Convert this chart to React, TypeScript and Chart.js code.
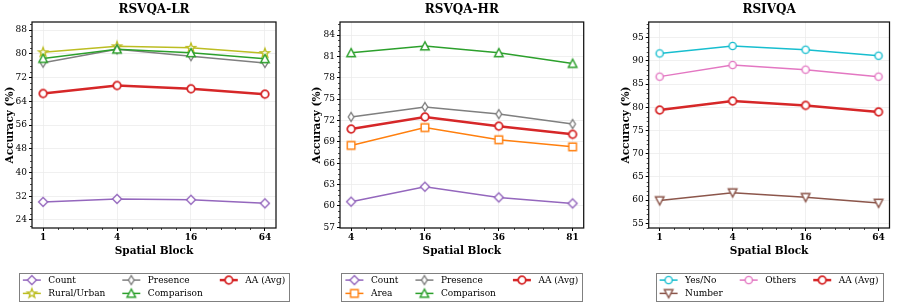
import React, { useEffect, useRef } from "react";
import { Chart, registerables } from "chart.js";

Chart.register(...registerables);

const FONT = "'DejaVu Serif', serif";

// ---------- Panel 1: RSVQA-LR ----------
const lrBlocks = ["1", "4", "16", "64"];
const lrCount = [30.1, 31.1, 30.8, 29.6];
const lrRuralUrban = [80.5, 82.5, 82.0, 80.2];
const lrPresence = [77.0, 81.5, 79.2, 76.9];
const lrComparison = [78.4, 81.5, 80.3, 78.3];
const lrAA = [66.6, 69.3, 68.2, 66.4];
const lrYTicks = [24, 32, 40, 48, 56, 64, 72, 80, 88];

// ---------- Panel 2: RSVQA-HR ----------
const hrBlocks = ["4", "16", "36", "81"];
const hrCount = [60.6, 62.7, 61.2, 60.35];
const hrArea = [68.5, 71.0, 69.3, 68.3];
const hrPresence = [72.5, 73.9, 72.9, 71.5];
const hrComparison = [81.5, 82.45, 81.5, 80.0];
const hrAA = [70.8, 72.5, 71.2, 70.05];
const hrYTicks = [57, 60, 63, 66, 69, 72, 75, 78, 81, 84];

// ---------- Panel 3: RSIVQA ----------
const ivBlocks = ["1", "4", "16", "64"];
const ivYesNo = [91.6, 93.2, 92.4, 91.1];
const ivNumber = [59.9, 61.6, 60.6, 59.35];
const ivOthers = [86.6, 89.1, 88.1, 86.6];
const ivAA = [79.4, 81.35, 80.4, 79.0];
const ivYTicks = [55, 60, 65, 70, 75, 80, 85, 90, 95];

type Series = { label: string; values: number[]; color: string; marker: string; width: number };

function makeMarker(kind: string, color: string, lw: number): HTMLCanvasElement {
  const S = 14;
  const c = document.createElement("canvas");
  c.width = S;
  c.height = S;
  const ctx = c.getContext("2d")!;
  const cx = S / 2,
    cy = S / 2;
  ctx.beginPath();
  switch (kind) {
    case "circle":
      ctx.arc(cx, cy, 3.6, 0, Math.PI * 2);
      break;
    case "circleL":
      ctx.arc(cx, cy, 3.8, 0, Math.PI * 2);
      break;
    case "diamond":
      ctx.moveTo(cx, cy - 4.5);
      ctx.lineTo(cx + 4.5, cy);
      ctx.lineTo(cx, cy + 4.5);
      ctx.lineTo(cx - 4.5, cy);
      ctx.closePath();
      break;
    case "thin":
      ctx.moveTo(cx, cy - 4.5);
      ctx.lineTo(cx + 2.8, cy);
      ctx.lineTo(cx, cy + 4.5);
      ctx.lineTo(cx - 2.8, cy);
      ctx.closePath();
      break;
    case "star":
      for (let i = 0; i < 10; i++) {
        const r = i % 2 ? 2.0 : 4.8;
        const a = -Math.PI / 2 + (i * Math.PI) / 5;
        const px = cx + r * Math.cos(a),
          py = cy + r * Math.sin(a);
        if (i === 0) ctx.moveTo(px, py);
        else ctx.lineTo(px, py);
      }
      ctx.closePath();
      break;
    case "tri":
      ctx.moveTo(cx, cy - 4.3);
      ctx.lineTo(cx + 4.3, cy + 3.8);
      ctx.lineTo(cx - 4.3, cy + 3.8);
      ctx.closePath();
      break;
    case "tridown":
      ctx.moveTo(cx, cy + 4.3);
      ctx.lineTo(cx + 4.3, cy - 3.8);
      ctx.lineTo(cx - 4.3, cy - 3.8);
      ctx.closePath();
      break;
    case "square":
      ctx.rect(cx - 3.8, cy - 3.8, 7.6, 7.6);
      break;
  }
  ctx.fillStyle = "#fff";
  ctx.fill();
  ctx.lineWidth = lw;
  ctx.strokeStyle = color;
  ctx.lineJoin = "miter";
  ctx.stroke();
  return c;
}

type PanelProps = {
  title: string;
  blocks: string[];
  series: Series[];
  yTicks: number[];
  yMin: number;
  yMax: number;
  yDiv: number;
  left: number;
  right: number;
  yTitlePad: number;
};

const W = 299;
const H = 306;

function Panel(p: PanelProps) {
  const ref = useRef<HTMLCanvasElement | null>(null);
  useEffect(() => {
    const canvas = ref.current!;
    const markers = p.series.map((s) => makeMarker(s.marker, s.color, s.width > 2 ? 1.8 : 1.4));

    const decor = {
      id: "decor",
      afterDraw(chart: any) {
        const { ctx, chartArea: ca, scales } = chart;
        const x = scales.x,
          y = scales.y;
        ctx.save();
        // minor ticks
        ctx.strokeStyle = "#000";
        ctx.lineWidth = 0.7;
        const step = p.yTicks[1] - p.yTicks[0];
        const ms = step / p.yDiv;
        for (let v = p.yTicks[0] - step; v <= p.yTicks[p.yTicks.length - 1] + step + 1e-6; v += ms) {
          if (v < y.min || v > y.max) continue;
          const isMajor = p.yTicks.some((t) => Math.abs(t - v) < 1e-6);
          if (isMajor) continue;
          const py = Math.round(y.getPixelForValue(v)) + 0.5;
          ctx.beginPath();
          ctx.moveTo(ca.left - 2, py);
          ctx.lineTo(ca.left, py);
          ctx.stroke();
        }
        for (let v = -1; v <= p.blocks.length + 1e-6; v += 0.2) {
          const vv = Math.round(v * 10) / 10;
          if (vv < x.min || vv > x.max) continue;
          if (Math.abs(vv - Math.round(vv)) < 1e-6) continue;
          const px = Math.round(x.getPixelForValue(vv)) + 0.5;
          ctx.beginPath();
          ctx.moveTo(px, ca.bottom);
          ctx.lineTo(px, ca.bottom + 2);
          ctx.stroke();
        }
        // frame
        ctx.lineWidth = 1.25;
        ctx.strokeStyle = "#111";
        ctx.strokeRect(ca.left, ca.top, ca.right - ca.left, ca.bottom - ca.top);
        // title
        ctx.fillStyle = "#000";
        ctx.font = `bold 12px ${FONT}`;
        ctx.textAlign = "center";
        ctx.textBaseline = "middle";
        ctx.fillText(p.title, (ca.left + ca.right) / 2, 9.5);
        // legend
        const n = p.series.length;
        const ncol = 3;
        const nrows = Math.floor(n / ncol);
        const large = n % ncol;
        const rowsPerCol: number[] = [];
        for (let i = 0; i < ncol; i++) rowsPerCol.push(i < large ? nrows + 1 : nrows);
        const cols: number[][] = [];
        let idx = 0;
        for (let c = 0; c < ncol; c++) {
          const col: number[] = [];
          for (let r = 0; r < rowsPerCol[c]; r++) col.push(idx++);
          cols.push(col);
        }
        ctx.font = `9px ${FONT}`;
        const handleLen = 18,
          handlePad = 7.5,
          colSpacing = 17,
          borderPad = 4;
        const colW = cols.map(
          (col) => handleLen + handlePad + Math.max(...col.map((i) => ctx.measureText(p.series[i].label).width))
        );
        const totalW = borderPad * 2 + colW.reduce((a, b) => a + b, 0) + colSpacing * (ncol - 1);
        const bx = (ca.left + ca.right) / 2 - totalW / 2;
        const by = 272.7;
        const bh = 28.3;
        ctx.fillStyle = "#fff";
        ctx.fillRect(bx, by, totalW, bh);
        ctx.strokeStyle = "#808080";
        ctx.lineWidth = 1;
        ctx.strokeRect(Math.round(bx) + 0.5, Math.round(by) + 0.5, Math.round(totalW), Math.round(bh));
        let cxp = bx + borderPad;
        cols.forEach((col, c) => {
          col.forEach((i, r) => {
            const s = p.series[i];
            const ry = by + 7.4 + r * 13.3;
            ctx.strokeStyle = s.color;
            ctx.lineWidth = s.width;
            ctx.beginPath();
            ctx.moveTo(cxp, ry);
            ctx.lineTo(cxp + handleLen, ry);
            ctx.stroke();
            const m = markers[i];
            ctx.drawImage(m, cxp + handleLen / 2 - m.width / 2, ry - m.height / 2);
            ctx.fillStyle = "#000";
            ctx.textAlign = "left";
            ctx.textBaseline = "middle";
            ctx.fillText(s.label, cxp + handleLen + handlePad, ry + 0.5);
          });
          cxp += colW[c] + colSpacing;
        });
        ctx.restore();
      },
    };

    const n = p.series.length;
    const chart = new Chart(canvas, {
      type: "line",
      data: {
        datasets: p.series.map((s, i) => ({
          label: s.label,
          data: s.values.map((v, k) => ({ x: k, y: v })),
          borderColor: s.color,
          backgroundColor: "#fff",
          borderWidth: s.width,
          pointStyle: markers[i] as any,
          pointRadius: 5,
          pointHoverRadius: 5,
          fill: false,
          tension: 0,
          order: n - i,
        })),
      },
      options: {
        responsive: false,
        animation: false,
        devicePixelRatio: 1,
        events: [],
        layout: { padding: { left: 0, top: 22, right: W - p.right, bottom: 44 } },
        plugins: {
          legend: { display: false },
          title: { display: false },
          tooltip: { enabled: false },
        },
        scales: {
          x: {
            type: "linear",
            min: -0.15,
            max: p.blocks.length - 1 + 0.15,
            afterBuildTicks: (s: any) => {
              s.ticks = p.blocks.map((_, k) => ({ value: k }));
            },
            afterFit: (s: any) => {
              s.height = 34;
            },
            ticks: {
              callback: (v: any) => p.blocks[Math.round(Number(v))] ?? "",
              font: { family: FONT, size: 9, weight: "bold" },
              color: "#000",
              padding: 1,
              maxRotation: 0,
              autoSkip: false,
            },
            grid: {
              color: "#ececec",
              lineWidth: 0.8,
              drawTicks: true,
              tickLength: 3,
              tickColor: "#000",
              tickWidth: 1,
            },
            border: { display: false },
            title: {
              display: true,
              text: "Spatial Block",
              font: { family: FONT, size: 10.5, weight: "bold" },
              color: "#000",
              padding: { top: 0, bottom: 4.2 },
            },
          },
          y: {
            type: "linear",
            min: p.yMin,
            max: p.yMax,
            afterBuildTicks: (s: any) => {
              s.ticks = p.yTicks.map((v) => ({ value: v }));
            },
            afterFit: (s: any) => {
              s.width = p.left;
            },
            ticks: {
              font: { family: FONT, size: 9 },
              color: "#000",
              padding: 2,
              autoSkip: false,
            },
            grid: {
              color: "#ececec",
              lineWidth: 0.8,
              drawTicks: true,
              tickLength: 3,
              tickColor: "#000",
              tickWidth: 1,
            },
            border: { display: false },
            title: {
              display: true,
              text: "Accuracy (%)",
              font: { family: FONT, size: 10.5, weight: "bold" },
              color: "#000",
              padding: { top: p.yTitlePad, bottom: 0 },
            },
          },
        },
      } as any,
      plugins: [decor],
    });
    return () => chart.destroy();
  }, []);
  return <canvas ref={ref} width={W} height={H} style={{ display: "block", width: W, height: H }} />;
}

const PURPLE = "#9467bd";
const GRAY = "#7f7f7f";
const RED = "#d62728";
const OLIVE = "#bcbd22";
const GREEN = "#2ca02c";
const ORANGE = "#ff7f0e";
const CYAN = "#17becf";
const PINK = "#e377c2";
const BROWN = "#8c564b";

export default function App() {
  const lrSeries: Series[] = [
    { label: "Count", values: lrCount, color: PURPLE, marker: "diamond", width: 1.5 },
    { label: "Rural/Urban", values: lrRuralUrban, color: OLIVE, marker: "star", width: 1.5 },
    { label: "Presence", values: lrPresence, color: GRAY, marker: "thin", width: 1.5 },
    { label: "Comparison", values: lrComparison, color: GREEN, marker: "tri", width: 1.5 },
    { label: "AA (Avg)", values: lrAA, color: RED, marker: "circleL", width: 2.5 },
  ];
  const hrSeries: Series[] = [
    { label: "Count", values: hrCount, color: PURPLE, marker: "diamond", width: 1.5 },
    { label: "Area", values: hrArea, color: ORANGE, marker: "square", width: 1.5 },
    { label: "Presence", values: hrPresence, color: GRAY, marker: "thin", width: 1.5 },
    { label: "Comparison", values: hrComparison, color: GREEN, marker: "tri", width: 1.5 },
    { label: "AA (Avg)", values: hrAA, color: RED, marker: "circleL", width: 2.5 },
  ];
  const ivSeries: Series[] = [
    { label: "Yes/No", values: ivYesNo, color: CYAN, marker: "circle", width: 1.5 },
    { label: "Number", values: ivNumber, color: BROWN, marker: "tridown", width: 1.5 },
    { label: "Others", values: ivOthers, color: PINK, marker: "circle", width: 1.5 },
    { label: "AA (Avg)", values: ivAA, color: RED, marker: "circleL", width: 2.5 },
  ];
  return (
    <div style={{ position: "fixed", left: 0, top: 0, width: 897, height: 306, display: "flex", background: "#fff" }}>
      <Panel
        title="RSVQA-LR"
        blocks={lrBlocks}
        series={lrSeries}
        yTicks={lrYTicks}
        yMin={21.3}
        yMax={90.7}
        yDiv={4}
        left={32}
        right={276}
        yTitlePad={3.7}
      />
      <Panel
        title="RSVQA-HR"
        blocks={hrBlocks}
        series={hrSeries}
        yTicks={hrYTicks}
        yMin={56.9}
        yMax={85.83}
        yDiv={4}
        left={41}
        right={284.7}
        yTitlePad={11.7}
      />
      <Panel
        title="RSIVQA"
        blocks={ivBlocks}
        series={ivSeries}
        yTicks={ivYTicks}
        yMin={53.99}
        yMax={98.37}
        yDiv={5}
        left={50.7}
        right={294}
        yTitlePad={21.7}
      />
    </div>
  );
}
